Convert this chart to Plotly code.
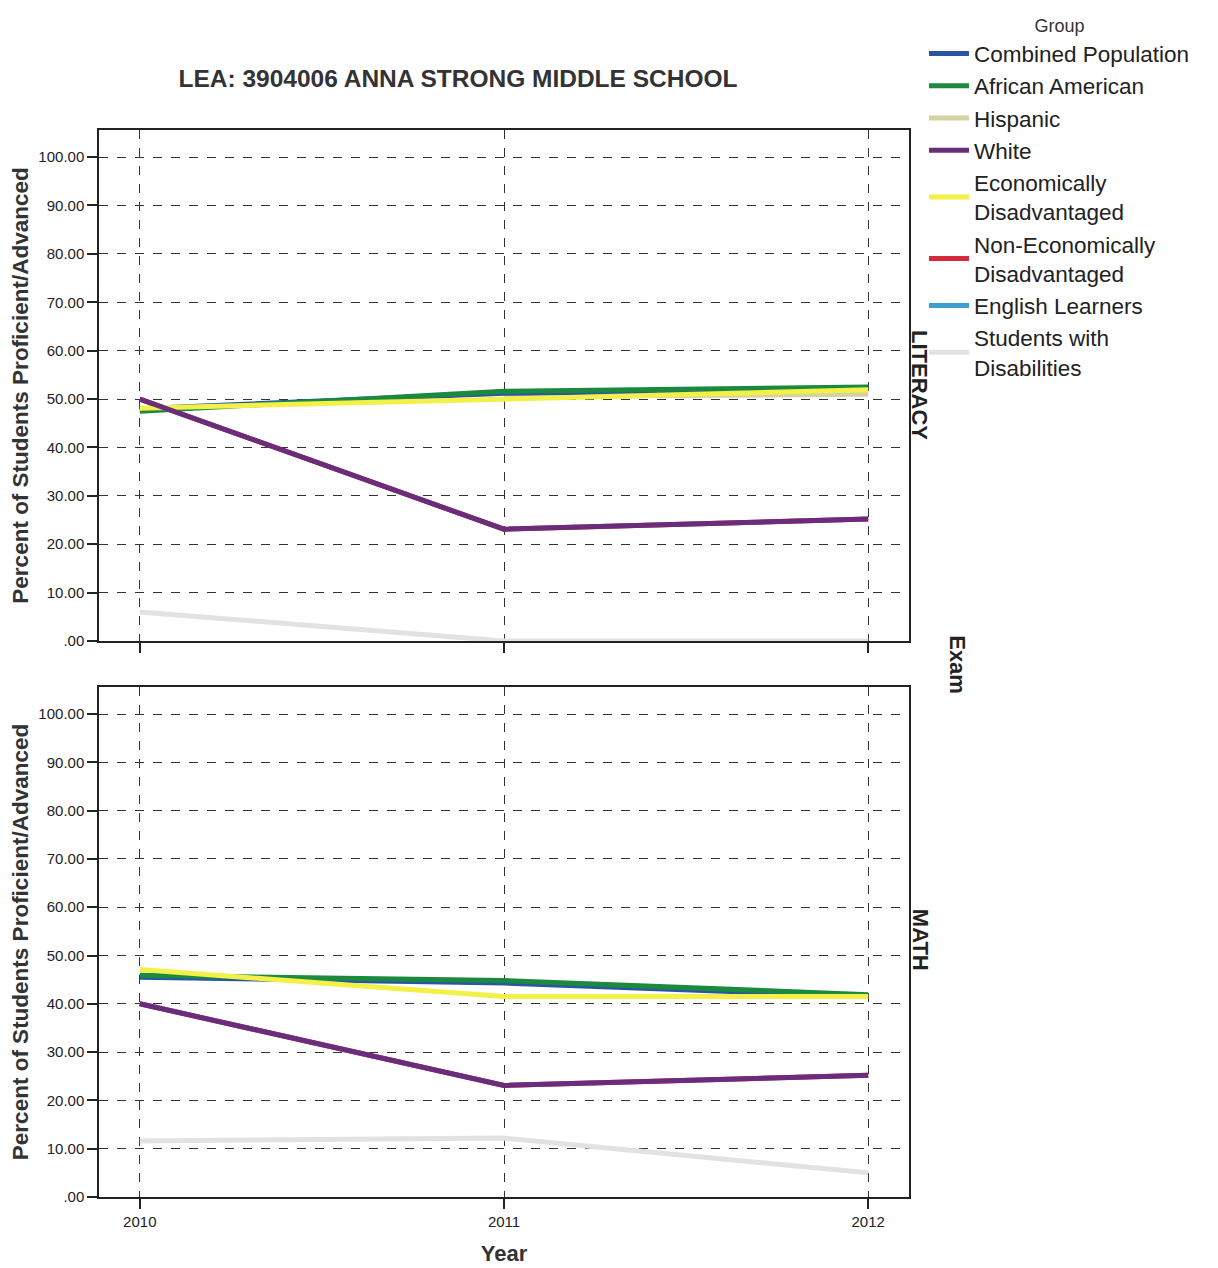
import plotly.graph_objects as go

years = [2010, 2011, 2012]
groups = ["Combined Population", "African American", "Hispanic", "White",
          "Economically<br>Disadvantaged", "Non-Economically<br>Disadvantaged",
          "English Learners", "Students with<br>Disabilities"]
colors = ["#2a55a5", "#1b8a3e", "#d5d2a2", "#6a2d7c", "#f3f04a", "#d42a3c", "#3c9fcf", "#e2e2e2"]

# Literacy values (percent proficient/advanced)
lit_combined = [48.0, 51.2, 52.0]
lit_african_american = [47.5, 51.6, 52.5]
lit_hispanic = [None, 50.5, 51.0]
lit_white = [50.0, 23.1, 25.2]
lit_econ = [48.1, 50.0, 51.9]
lit_non_econ = [50.0, 23.1, 25.2]
lit_english_learners = [47.8, None, None]
lit_disabilities = [6.0, 0.0, 0.0]

# Math values
math_combined = [45.5, 44.3, 41.5]
math_african_american = [45.9, 44.8, 41.9]
math_hispanic = [None, None, None]
math_white = [40.0, 23.1, 25.2]
math_econ = [47.1, 41.5, 41.5]
math_non_econ = [40.0, 23.1, 25.2]
math_english_learners = [None, None, None]
math_disabilities = [11.6, 12.2, 5.0]

lit = [lit_combined, lit_african_american, lit_hispanic, lit_white,
       lit_econ, lit_non_econ, lit_english_learners, lit_disabilities]
math = [math_combined, math_african_american, math_hispanic, math_white,
        math_econ, math_non_econ, math_english_learners, math_disabilities]

y_ticks = [0, 10, 20, 30, 40, 50, 60, 70, 80, 90, 100]
y_ticklabels = [".00", "10.00", "20.00", "30.00", "40.00", "50.00", "60.00",
                "70.00", "80.00", "90.00", "100.00"]

draw_order = [7, 2, 6, 5, 0, 1, 4, 3]

fig = go.Figure()
for panel, data, yax in [(0, lit, "y"), (1, math, "y2")]:
    for i in draw_order:
        fig.add_trace(go.Scatter(
            x=years, y=data[i], mode="lines", name=groups[i],
            line=dict(color=colors[i], width=5),
            legendgroup=groups[i], showlegend=(panel == 0), legendrank=i + 1,
            xaxis="x" if panel == 0 else "x2", yaxis=yax,
        ))

FONT = "Arial, Liberation Sans, sans-serif"
axis_common = dict(
    showline=True, linecolor="#222", linewidth=1.5, mirror=True,
    showgrid=True, gridcolor="#333", griddash="dash", gridwidth=1,
    zeroline=False, ticks="outside", ticklen=10, tickcolor="#222", tickwidth=1.5,
    tickfont=dict(size=15, color="#222", family=FONT), automargin=False,
)
xr = [2009.888, 2012.112]
yr = [0, 105.6]
ytitle = dict(text="<b>Percent of Students Proficient/Advanced</b>",
              font=dict(size=22.5, family=FONT, color="#333"), standoff=8)

# page body has an 8px margin, so the figure is drawn offset by (8, 8)
W, H = 1210, 1260

fig.update_layout(
    width=W, height=H,
    margin=dict(l=91, r=309, t=122, b=71, autoexpand=False),
    paper_bgcolor="white", plot_bgcolor="white",
    font=dict(family=FONT, color="#222"),
    title=dict(text="<b>LEA: 3904006 ANNA STRONG MIDDLE SCHOOL</b>",
               x=(458 - 8) / W, xanchor="center", y=1 - (78 - 8) / H, yanchor="middle",
               font=dict(size=24.5, family=FONT, color="#333")),
    xaxis=dict(domain=[0, 1], range=xr, anchor="y", tickvals=years, showticklabels=False,
               **axis_common),
    yaxis=dict(domain=[0.5211, 1], range=yr, anchor="x", tickvals=y_ticks, ticktext=y_ticklabels,
               title=ytitle, **axis_common),
    xaxis2=dict(domain=[0, 1], range=xr, anchor="y2", tickvals=years,
                ticktext=[str(y) for y in years],
                title=dict(text="<b>Year</b>", font=dict(size=22, family=FONT, color="#333"),
                           standoff=17),
                **axis_common),
    yaxis2=dict(domain=[0, 0.478], range=yr, anchor="x2", tickvals=y_ticks, ticktext=y_ticklabels,
                title=ytitle, **axis_common),
    legend=dict(
        x=1.0185, xanchor="left", y=1.1135, yanchor="top",
        title=dict(text="Group", side="top center", font=dict(size=18, family=FONT, color="#333")),
        font=dict(size=22.5, family=FONT, color="#222"),
        bgcolor="rgba(0,0,0,0)", tracegroupgap=0, itemwidth=40,
    ),
    annotations=[
        dict(text="<b>LITERACY</b>", x=1.0136, y=0.761, xref="paper", yref="paper",
             xanchor="center", yanchor="middle",
             textangle=90, showarrow=False, font=dict(size=22, family=FONT, color="#222")),
        dict(text="<b>MATH</b>", x=1.0136, y=0.241, xref="paper", yref="paper",
             xanchor="center", yanchor="middle",
             textangle=90, showarrow=False, font=dict(size=22, family=FONT, color="#222")),
        dict(text="<b>Exam</b>", x=1.059, y=0.4986, xref="paper", yref="paper",
             xanchor="center", yanchor="middle",
             textangle=90, showarrow=False, font=dict(size=22, family=FONT, color="#222")),
    ],
)

fig.write_html("out.html")
